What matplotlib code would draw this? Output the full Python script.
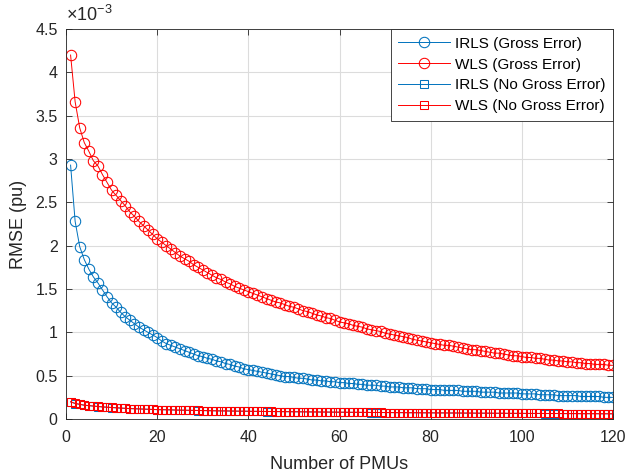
import matplotlib
matplotlib.use("Agg")
import matplotlib.pyplot as plt
import numpy as np

plt.rcParams["font.family"] = ["Liberation Sans", "DejaVu Sans"]
plt.rcParams["mathtext.fontset"] = "custom"
plt.rcParams["mathtext.rm"] = "Liberation Sans"

BLUE = "#0072BD"
RED = "#FF0000"
DARK = "#262626"

# number of PMUs
pmus = list(range(1, 121))

# RMSE values in units of 1e-3 pu
wls_gross = [
    4.20, 3.66, 3.36, 3.19, 3.09, 2.98, 2.92, 2.82, 2.73, 2.64,
    2.58, 2.52, 2.46, 2.39, 2.34, 2.28, 2.23, 2.18, 2.13, 2.08,
    2.04, 2.00, 1.96, 1.92, 1.88, 1.85, 1.82, 1.78, 1.75, 1.72,
    1.69, 1.66, 1.63, 1.61, 1.58, 1.56, 1.53, 1.51, 1.49, 1.47,
    1.45, 1.43, 1.41, 1.39, 1.37, 1.35, 1.34, 1.32, 1.30, 1.29,
    1.27, 1.25, 1.24, 1.22, 1.20, 1.19, 1.17, 1.16, 1.14, 1.12,
    1.11, 1.10, 1.08, 1.07, 1.06, 1.04, 1.03, 1.02, 1.01, 0.99,
    0.98, 0.97, 0.96, 0.95, 0.94, 0.92, 0.91, 0.90, 0.89, 0.88,
    0.87, 0.86, 0.85, 0.85, 0.84, 0.83, 0.82, 0.81, 0.80, 0.80,
    0.79, 0.78, 0.77, 0.76, 0.76, 0.75, 0.74, 0.73, 0.73, 0.72,
    0.71, 0.71, 0.70, 0.70, 0.69, 0.68, 0.68, 0.67, 0.67, 0.66,
    0.66, 0.65, 0.65, 0.64, 0.64, 0.63, 0.63, 0.63, 0.62, 0.62,
]

irls_gross = [
    2.93, 2.28, 1.99, 1.84, 1.73, 1.64, 1.57, 1.49, 1.41, 1.34,
    1.29, 1.23, 1.18, 1.14, 1.10, 1.06, 1.03, 1.00, 0.97, 0.94,
    0.90, 0.87, 0.85, 0.83, 0.81, 0.79, 0.77, 0.75, 0.73, 0.72,
    0.70, 0.69, 0.67, 0.66, 0.64, 0.63, 0.61, 0.60, 0.58, 0.57,
    0.56, 0.55, 0.54, 0.53, 0.52, 0.51, 0.50, 0.49, 0.49, 0.48,
    0.47, 0.47, 0.46, 0.45, 0.45, 0.44, 0.44, 0.43, 0.43, 0.42,
    0.42, 0.41, 0.41, 0.40, 0.40, 0.39, 0.39, 0.39, 0.38, 0.38,
    0.37, 0.37, 0.37, 0.36, 0.36, 0.36, 0.35, 0.35, 0.35, 0.34,
    0.34, 0.34, 0.33, 0.33, 0.33, 0.33, 0.32, 0.32, 0.32, 0.32,
    0.31, 0.31, 0.31, 0.31, 0.30, 0.30, 0.30, 0.30, 0.30, 0.29,
    0.29, 0.29, 0.29, 0.28, 0.28, 0.28, 0.28, 0.27, 0.27, 0.27,
    0.27, 0.27, 0.26, 0.26, 0.26, 0.26, 0.26, 0.25, 0.25, 0.25,
]

irls_clean = [
    0.197, 0.179, 0.169, 0.159, 0.154, 0.149, 0.144, 0.139, 0.136, 0.132,
    0.129, 0.126, 0.123, 0.120, 0.118, 0.116, 0.114, 0.112, 0.110, 0.108,
    0.107, 0.106, 0.105, 0.103, 0.102, 0.101, 0.100, 0.099, 0.098, 0.097,
    0.096, 0.095, 0.094, 0.093, 0.093, 0.092, 0.091, 0.090, 0.090, 0.089,
    0.088, 0.088, 0.087, 0.086, 0.086, 0.085, 0.085, 0.084, 0.084, 0.083,
    0.083, 0.082, 0.082, 0.081, 0.081, 0.080, 0.080, 0.079, 0.079, 0.078,
    0.078, 0.077, 0.077, 0.077, 0.076, 0.076, 0.075, 0.075, 0.075, 0.074,
    0.074, 0.073, 0.073, 0.073, 0.072, 0.072, 0.072, 0.071, 0.071, 0.071,
    0.070, 0.070, 0.070, 0.069, 0.069, 0.069, 0.068, 0.068, 0.068, 0.067,
    0.067, 0.067, 0.067, 0.066, 0.066, 0.066, 0.065, 0.065, 0.065, 0.065,
    0.064, 0.064, 0.064, 0.064, 0.063, 0.063, 0.063, 0.063, 0.062, 0.062,
    0.062, 0.062, 0.061, 0.061, 0.061, 0.061, 0.060, 0.060, 0.060, 0.060,
]

wls_clean = [
    0.200, 0.180, 0.170, 0.160, 0.155, 0.150, 0.145, 0.140, 0.137, 0.133,
    0.130, 0.127, 0.124, 0.121, 0.119, 0.117, 0.115, 0.113, 0.111, 0.109,
    0.108, 0.107, 0.106, 0.104, 0.103, 0.102, 0.101, 0.100, 0.099, 0.098,
    0.097, 0.096, 0.095, 0.094, 0.094, 0.093, 0.092, 0.091, 0.091, 0.090,
    0.089, 0.089, 0.088, 0.087, 0.087, 0.086, 0.086, 0.085, 0.085, 0.084,
    0.084, 0.083, 0.083, 0.082, 0.082, 0.081, 0.081, 0.080, 0.080, 0.079,
    0.079, 0.078, 0.078, 0.078, 0.077, 0.077, 0.076, 0.076, 0.076, 0.075,
    0.075, 0.074, 0.074, 0.074, 0.073, 0.073, 0.073, 0.072, 0.072, 0.072,
    0.071, 0.071, 0.071, 0.070, 0.070, 0.070, 0.069, 0.069, 0.069, 0.068,
    0.068, 0.068, 0.068, 0.067, 0.067, 0.067, 0.066, 0.066, 0.066, 0.066,
    0.065, 0.065, 0.065, 0.065, 0.064, 0.064, 0.064, 0.064, 0.063, 0.063,
    0.063, 0.063, 0.062, 0.062, 0.062, 0.062, 0.061, 0.061, 0.061, 0.061,
]

labels = ["IRLS (Gross Error)", "WLS (Gross Error)",
          "IRLS (No Gross Error)", "WLS (No Gross Error)"]

x = np.array(pmus)
fig = plt.figure(figsize=(6.27, 4.76), dpi=100)
ax = fig.add_axes([0.1053, 0.1197, 0.8724, 0.8193])

ms = 7.5
mew = 0.75
ax.plot(x, np.array(irls_gross) * 1e-3, "-o", color=BLUE, lw=0.7, ms=ms,
        mfc="none", mew=mew, label=labels[0])
ax.plot(x, np.array(wls_gross) * 1e-3, "-o", color=RED, lw=0.7, ms=ms,
        mfc="none", mew=mew, label=labels[1])
ax.plot(x, np.array(irls_clean) * 1e-3, "-s", color=BLUE, lw=0.7, ms=6,
        mfc="none", mew=mew, label=labels[2])
ax.plot(x, np.array(wls_clean) * 1e-3, "-s", color=RED, lw=0.7, ms=6,
        mfc="none", mew=mew, label=labels[3])

ax.set_xlim(0, 120)
ax.set_ylim(0, 4.5e-3)
ax.set_xticks(range(0, 121, 20))
yt = np.arange(0, 4.51, 0.5)
ax.set_yticks(yt * 1e-3)
ax.set_yticklabels([f"{v:g}" for v in yt])
ax.text(0, 1.01, r"$\mathregular{\times10^{-3}}$", transform=ax.transAxes,
        ha="left", va="bottom", fontsize=13, color=DARK)

ax.grid(True, color="#dcdcdc", lw=0.8)
ax.set_axisbelow(True)
ax.tick_params(direction="in", top=True, right=True, colors=DARK,
               labelsize=11.5, length=4, width=0.6)
ax.tick_params(axis="x", pad=8)
ax.tick_params(axis="y", pad=6)
for s in ax.spines.values():
    s.set_color(DARK)
    s.set_linewidth(0.6)

ax.set_xlabel("Number of PMUs", fontsize=13, color=DARK, labelpad=8)
ax.set_ylabel("RMSE (pu)", fontsize=13, color=DARK, labelpad=6)

leg = ax.legend(loc="upper right", fontsize=11, fancybox=False,
                framealpha=1, edgecolor=DARK, borderaxespad=0,
                handlelength=3.4, handletextpad=0.3, labelspacing=0.45,
                borderpad=0.5)
leg.get_frame().set_linewidth(0.6)

fig.savefig("out.png", dpi=100)
